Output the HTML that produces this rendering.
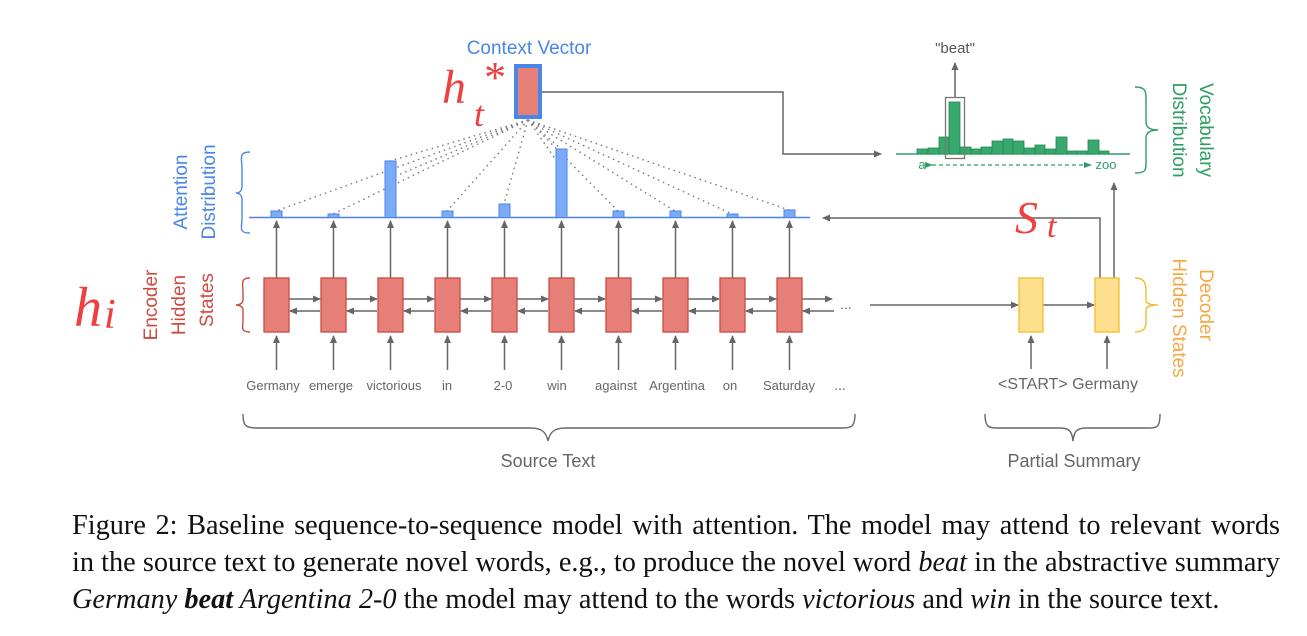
<!DOCTYPE html>
<html><head><meta charset="utf-8"><style>
html,body{margin:0;padding:0;background:#fff;}
body{width:1307px;height:636px;overflow:hidden;position:relative;}
.cap{position:absolute;left:72px;width:1208px;font-family:"Liberation Serif",serif;font-size:28.3px;color:#111;white-space:nowrap;}
.j{text-align:justify;text-align-last:justify;}
</style></head><body>
<svg width="1307" height="636" style="position:absolute;left:0;top:0" font-family="Liberation Sans, sans-serif">
<defs>
<marker id="ah" markerWidth="8" markerHeight="8" refX="7" refY="4" orient="auto" markerUnits="userSpaceOnUse"><path d="M0,0.5 L8,4 L0,7.5z" fill="#666"/></marker>
<marker id="ag" markerWidth="8" markerHeight="8" refX="7" refY="4" orient="auto" markerUnits="userSpaceOnUse"><path d="M0,1 L8,4 L0,7z" fill="#2e9e63"/></marker>
</defs>
<text x="529" y="54" fill="#4a86e8" font-size="19" text-anchor="middle">Context Vector</text>
<rect x="516" y="66" width="24" height="51" fill="#e57f77" stroke="#4a86e8" stroke-width="4"/>
<g stroke="#777" stroke-width="1.4" stroke-dasharray="1.5,4" fill="none">
<line x1="528" y1="120" x2="276" y2="211"/>
<line x1="528" y1="120" x2="333" y2="214"/>
<line x1="528" y1="120" x2="390" y2="161"/>
<line x1="528" y1="120" x2="396" y2="176"/>
<line x1="528" y1="120" x2="447" y2="211"/>
<line x1="528" y1="120" x2="504" y2="204"/>
<line x1="528" y1="120" x2="561" y2="149"/>
<line x1="528" y1="120" x2="563" y2="170"/>
<line x1="528" y1="120" x2="618" y2="211"/>
<line x1="528" y1="120" x2="675" y2="211"/>
<line x1="528" y1="120" x2="732" y2="214"/>
<line x1="528" y1="120" x2="789" y2="210"/>
</g>
<line x1="249" y1="217.5" x2="810" y2="217.5" stroke="#4a86e8" stroke-width="1.5"/>
<g fill="#7baaf7" stroke="#4a86e8" stroke-width="1">
<rect x="271" y="211" width="11" height="6.5"/>
<rect x="328" y="214" width="11" height="3.5"/>
<rect x="385" y="161" width="11" height="56.5"/>
<rect x="442" y="211" width="11" height="6.5"/>
<rect x="499" y="204" width="11" height="13.5"/>
<rect x="556" y="149" width="11" height="68.5"/>
<rect x="613" y="211" width="11" height="6.5"/>
<rect x="670" y="211" width="11" height="6.5"/>
<rect x="727" y="214" width="11" height="3.5"/>
<rect x="784" y="210" width="11" height="7.5"/>
</g>
<g stroke="#666" stroke-width="1.5" fill="none" marker-end="url(#ah)">
<line x1="276.5" y1="370" x2="276.5" y2="336"/><line x1="333.5" y1="370" x2="333.5" y2="336"/><line x1="390.5" y1="370" x2="390.5" y2="336"/><line x1="447.5" y1="370" x2="447.5" y2="336"/><line x1="504.5" y1="370" x2="504.5" y2="336"/><line x1="561.5" y1="370" x2="561.5" y2="336"/><line x1="618.5" y1="370" x2="618.5" y2="336"/><line x1="675.5" y1="370" x2="675.5" y2="336"/><line x1="732.5" y1="370" x2="732.5" y2="336"/><line x1="789.5" y1="370" x2="789.5" y2="336"/>
<line x1="276.5" y1="278" x2="276.5" y2="221"/><line x1="333.5" y1="278" x2="333.5" y2="221"/><line x1="390.5" y1="278" x2="390.5" y2="221"/><line x1="447.5" y1="278" x2="447.5" y2="221"/><line x1="504.5" y1="278" x2="504.5" y2="221"/><line x1="561.5" y1="278" x2="561.5" y2="221"/><line x1="618.5" y1="278" x2="618.5" y2="221"/><line x1="675.5" y1="278" x2="675.5" y2="221"/><line x1="732.5" y1="278" x2="732.5" y2="221"/><line x1="789.5" y1="278" x2="789.5" y2="221"/>
</g>
<g stroke="#666" stroke-width="1.5" fill="none">
<line x1="289" y1="299" x2="320" y2="299" marker-end="url(#ah)"/><line x1="320" y1="311" x2="290" y2="311" marker-end="url(#ah)"/>
<line x1="346" y1="299" x2="377" y2="299" marker-end="url(#ah)"/><line x1="377" y1="311" x2="347" y2="311" marker-end="url(#ah)"/>
<line x1="403" y1="299" x2="434" y2="299" marker-end="url(#ah)"/><line x1="434" y1="311" x2="404" y2="311" marker-end="url(#ah)"/>
<line x1="460" y1="299" x2="491" y2="299" marker-end="url(#ah)"/><line x1="491" y1="311" x2="461" y2="311" marker-end="url(#ah)"/>
<line x1="517" y1="299" x2="548" y2="299" marker-end="url(#ah)"/><line x1="548" y1="311" x2="518" y2="311" marker-end="url(#ah)"/>
<line x1="574" y1="299" x2="605" y2="299" marker-end="url(#ah)"/><line x1="605" y1="311" x2="575" y2="311" marker-end="url(#ah)"/>
<line x1="631" y1="299" x2="662" y2="299" marker-end="url(#ah)"/><line x1="662" y1="311" x2="632" y2="311" marker-end="url(#ah)"/>
<line x1="688" y1="299" x2="719" y2="299" marker-end="url(#ah)"/><line x1="719" y1="311" x2="689" y2="311" marker-end="url(#ah)"/>
<line x1="745" y1="299" x2="776" y2="299" marker-end="url(#ah)"/><line x1="776" y1="311" x2="746" y2="311" marker-end="url(#ah)"/>
<line x1="802" y1="299" x2="832" y2="299" marker-end="url(#ah)"/><line x1="834" y1="311" x2="803" y2="311" marker-end="url(#ah)"/>
</g>
<g fill="#e57f77" stroke="#cc4b42" stroke-width="1.3">
<rect x="264" y="278" width="25" height="54"/><rect x="321" y="278" width="25" height="54"/><rect x="378" y="278" width="25" height="54"/><rect x="435" y="278" width="25" height="54"/><rect x="492" y="278" width="25" height="54"/><rect x="549" y="278" width="25" height="54"/><rect x="606" y="278" width="25" height="54"/><rect x="663" y="278" width="25" height="54"/><rect x="720" y="278" width="25" height="54"/><rect x="777" y="278" width="25" height="54"/>
</g>
<text x="846" y="309" fill="#666" font-size="14" text-anchor="middle">...</text>
<g fill="#666" font-size="13" text-anchor="middle">
<text x="273" y="390">Germany</text><text x="331" y="390">emerge</text><text x="394" y="390">victorious</text><text x="447" y="390">in</text><text x="503" y="390">2-0</text><text x="557" y="390">win</text><text x="616" y="390">against</text><text x="677" y="390">Argentina</text><text x="730" y="390">on</text><text x="789" y="390">Saturday</text>
<text x="840" y="390" font-size="14">...</text>
<text x="1068" y="389" font-size="16">&lt;START&gt; Germany</text>
</g>
<g stroke="#666" stroke-width="1.5" fill="none">
<line x1="870" y1="305" x2="1018" y2="305" marker-end="url(#ah)"/>
<line x1="1043" y1="305" x2="1094" y2="305" marker-end="url(#ah)"/>
<line x1="1031" y1="369" x2="1031" y2="336" marker-end="url(#ah)"/>
<line x1="1107" y1="369" x2="1107" y2="336" marker-end="url(#ah)"/>
<path d="M1100,278V218H823" marker-end="url(#ah)"/>
<path d="M1114,278V183" marker-end="url(#ah)"/>
<path d="M542,92H783V154H881" marker-end="url(#ah)"/>
<path d="M955,97V63" marker-end="url(#ah)"/>
</g>
<g fill="#fde08d" stroke="#f1bc2e" stroke-width="1.3">
<rect x="1019" y="278" width="24" height="54"/><rect x="1095" y="278" width="24" height="54"/>
</g>
<g fill="#3aa76d" stroke="#1e8a50" stroke-width="0.8">
<rect x="917" y="149" width="11" height="5"/><rect x="928" y="148" width="11" height="6"/><rect x="939" y="137" width="10" height="17"/><rect x="949" y="102" width="11" height="52"/><rect x="960" y="147" width="11" height="7"/><rect x="971" y="149" width="10" height="5"/><rect x="981" y="147" width="11" height="7"/><rect x="992" y="141" width="11" height="13"/><rect x="1003" y="139" width="10" height="15"/><rect x="1013" y="141" width="11" height="13"/><rect x="1024" y="148" width="11" height="6"/><rect x="1035" y="145" width="10" height="9"/><rect x="1045" y="149" width="11" height="5"/><rect x="1056" y="137" width="11" height="17"/><rect x="1067" y="151" width="10" height="3"/><rect x="1077" y="151" width="11" height="3"/><rect x="1088" y="140" width="11" height="14"/><rect x="1099" y="151" width="10" height="3"/>
</g>
<line x1="896" y1="154" x2="1130" y2="154" stroke="#2e9e63" stroke-width="1.5"/>
<rect x="945.5" y="97.5" width="19" height="61" fill="none" stroke="#777" stroke-width="1.3"/>
<text x="955" y="53" fill="#555" font-size="15" text-anchor="middle">"beat"</text>
<text x="922" y="169" fill="#2e9e63" font-size="13" text-anchor="middle">a</text>
<text x="1106" y="169" fill="#2e9e63" font-size="13" text-anchor="middle">zoo</text>
<line x1="932" y1="165" x2="1091" y2="165" stroke="#2e9e63" stroke-width="1.2" stroke-dasharray="4,3" marker-start="url(#ag)" marker-end="url(#ag)"/>
<g fill="none" stroke-width="1.4">
<path d="M250,152 C238,152 242,158 242,170 V186 C242,190 240,193 236,193 C240,193 242,196 242,200 V218 C242,228 238,233 250,233" stroke="#4a86e8"/>
<path d="M250,278 C240,278 243,284 243,292 V300 C243,303 240,305 236,305 C240,305 243,307 243,310 V320 C243,327 240,332 250,332" stroke="#cc4b42"/>
<path d="M1135,87 C1147,87 1146,92 1146,104 V122 C1146,126 1148,130 1158,130 C1148,130 1146,134 1146,138 V158 C1146,170 1147,173 1135,173" stroke="#2e9e63"/>
<path d="M1135,278 C1145,278 1146,284 1146,292 V300 C1146,303 1150,305 1158,305 C1150,305 1146,307 1146,310 V320 C1146,327 1145,332 1135,332" stroke="#f1bc2e"/>
<path d="M243,414 C243,428 247,428 262,428 H530 C542,428 546,432 548,441 C550,432 554,428 566,428 H838 C851,428 855,428 855,414" stroke="#666"/>
<path d="M985,414 C985,428 989,428 1000,428 H1060 C1070,428 1072,432 1073,441 C1074,432 1076,428 1086,428 H1146 C1157,428 1160,428 1160,414" stroke="#666"/>
</g>
<text x="548" y="467" fill="#666" font-size="18" text-anchor="middle">Source Text</text>
<text x="1074" y="467" fill="#666" font-size="18" text-anchor="middle">Partial Summary</text>
<g font-size="19" text-anchor="middle">
<text transform="translate(187,192) rotate(-90)" fill="#4a86e8">Attention</text>
<text transform="translate(215,192) rotate(-90)" fill="#4a86e8">Distribution</text>
<text transform="translate(157,305) rotate(-90)" fill="#cc4b42">Encoder</text>
<text transform="translate(185,305) rotate(-90)" fill="#cc4b42">Hidden</text>
<text transform="translate(213,300) rotate(-90)" fill="#cc4b42">States</text>
<text transform="translate(1200,130) rotate(90)" fill="#2e9e63">Vocabulary</text>
<text transform="translate(1173,130) rotate(90)" fill="#2e9e63">Distribution</text>
<text transform="translate(1200,305) rotate(90)" fill="#f4a742">Decoder</text>
<text transform="translate(1173,318) rotate(90)" fill="#f4a742">Hidden States</text>
</g>
<g fill="#ee4040" font-family="Liberation Serif, serif" font-style="italic">
<text x="442" y="103" font-size="48">h</text>
<text x="474" y="126" font-size="36">t</text>
<text x="482" y="92" font-size="44">*</text>
<text x="74" y="326" font-size="56">h</text>
<text x="104" y="328" font-size="42">i</text>
<text x="1015" y="233" font-size="46">S</text>
<text x="1047" y="237" font-size="34">t</text>
</g>
</svg>
<div class="cap j" style="top:510px">Figure 2: Baseline sequence-to-sequence model with attention. The model may attend to relevant words</div>
<div class="cap j" style="top:547px">in the source text to generate novel words, e.g., to produce the novel word <i>beat</i> in the abstractive summary</div>
<div class="cap" style="top:584px"><i>Germany <b>beat</b> Argentina 2-0</i> the model may attend to the words <i>victorious</i> and <i>win</i> in the source text.</div>
</body></html>
